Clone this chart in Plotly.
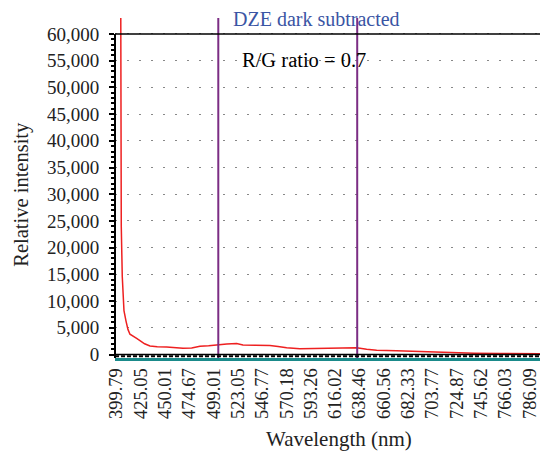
import numpy as np
import plotly.graph_objects as go

# Tick labels (wavelengths, nm) - evenly spaced on the axis (detector pixels)
tick_wl = [399.79, 425.05, 450.01, 474.67, 499.01, 523.05, 546.77, 570.18, 593.26,
           616.02, 638.46, 660.56, 682.33, 703.77, 724.87, 745.62, 766.03, 786.09]
tick_labels = [f"{v:.2f}" for v in tick_wl]

# Spectrum
spec_wl = [404.06, 404.79, 405.83, 406.53, 407.60, 409.67, 411.74, 413.83, 417.5, 420.78,
           424.22, 429.0, 434.51, 442.0, 451.64, 460.0, 468.18, 477.0, 485.28, 494.0,
           503.26, 512.0, 521.78, 527.94, 540.0, 554.19, 562.0, 570.27, 582.90, 598.0,
           613.95, 625.0, 635.88, 645.0, 654.11, 672.0, 689.92, 705.0, 719.05, 740.0,
           761.58, 780.0, 801.27]
spec_int = [80000, 24000, 14600, 10500, 8200, 6300, 4700, 3800, 3300, 3000,
            2600, 2000, 1600, 1450, 1400, 1250, 1150, 1200, 1550, 1650,
            1850, 1950, 2050, 1800, 1750, 1700, 1500, 1250, 1080, 1100,
            1120, 1150, 1250, 1000, 800, 680, 560, 420, 320, 250,
            200, 160, 130]

# Marker lines (nm)
marker_wl = [503.6, 636.4]

idx = np.arange(len(tick_wl))


def wl_to_idx(w):
    w = np.asarray(w, dtype=float)
    out = np.interp(w, tick_wl, idx)
    lo = w < tick_wl[0]
    hi = w > tick_wl[-1]
    out[lo] = (w[lo] - tick_wl[0]) / (tick_wl[1] - tick_wl[0])
    out[hi] = idx[-1] + (w[hi] - tick_wl[-1]) / (tick_wl[-1] - tick_wl[-2])
    return out


serif = "Liberation Serif, Times New Roman, serif"

# page offset of the figure (default body margin) and window size
O = 8
W, H = 548 - O, 462 - O
# plot-area geometry in window pixels
L, R, T, B = 115, 548, 18, 358.5
PW, PH = R - L, B - T


def px(x):
    return (x - L) / PW


def py(y):
    return (B - y) / PH


fig = go.Figure()
fig.add_trace(go.Scatter(x=wl_to_idx(spec_wl), y=spec_int, mode="lines",
                         line=dict(color="#EE2020", width=1.5), showlegend=False))

shapes = []
for m in wl_to_idx(marker_wl):
    shapes.append(dict(type="line", xref="x", yref="paper", x0=m, x1=m, y0=0, y1=1,
                       line=dict(color="#7B2D84", width=2)))
shapes.append(dict(type="line", xref="paper", yref="y", x0=0, x1=1, y0=60000, y1=60000,
                   line=dict(color="black", width=1.5)))
shapes.append(dict(type="line", xref="paper", yref="y", x0=0, x1=0, y0=-654, y1=60000,
                   line=dict(color="black", width=2)))
shapes.append(dict(type="line", xref="paper", yref="y", x0=0, x1=1, y0=0, y1=0,
                   line=dict(color="black", width=1.5)))
shapes.append(dict(type="line", xref="paper", yref="y", x0=0, x1=1, y0=-330, y1=-330,
                   line=dict(color="black", width=2, dash="4px,2px")))
fig.update_layout(shapes=shapes)

fig.add_annotation(text="DZE dark subtracted", xref="paper", yref="paper",
                   x=px(316), y=py(19.5), yanchor="middle", showarrow=False,
                   font=dict(family=serif, size=20, color="#3A55A4"))
fig.add_annotation(text="R/G ratio = 0.7", xref="paper", yref="paper",
                   x=px(304), y=py(60), yanchor="middle", showarrow=False,
                   font=dict(family=serif, size=20.5, color="black"))
fig.add_annotation(text="Wavelength (nm)", xref="paper", yref="paper",
                   x=px(339), y=py(440), yanchor="middle", showarrow=False,
                   font=dict(family=serif, size=21, color="#222"))
fig.add_annotation(text="Relative intensity", xref="paper", yref="paper",
                   x=px(22), y=py(195), textangle=-90, xanchor="center", yanchor="middle",
                   showarrow=False, font=dict(family=serif, size=20.5, color="#222"))

fig.update_xaxes(range=[-0.06, 17.76], tickmode="array", tickvals=list(idx),
                 ticktext=tick_labels, tickangle=-90, showgrid=False, zeroline=False,
                 showline=True, linecolor="#1A8A8A", linewidth=2.5, ticks="",
                 automargin=False,
                 tickfont=dict(family=serif, size=18.5, color="#222"))
fig.update_yaxes(range=[-654, 62991], tickmode="array",
                 tickvals=list(range(0, 60001, 5000)),
                 ticktext=[f"{v:,}" for v in range(0, 60001, 5000)],
                 ticks="outside", ticklen=5, tickwidth=1.5, tickcolor="black",
                 ticklabelstandoff=6,
                 minor=dict(tickmode="array", tickvals=list(range(0, 60001, 1000)),
                            ticks="outside", ticklen=3, tickwidth=1.5, tickcolor="black",
                            showgrid=False),
                 showgrid=True, gridcolor="#888", gridwidth=1.2, griddash="2px,10px",
                 zeroline=False, showline=False, automargin=False,
                 tickfont=dict(family=serif, size=19, color="#222"))

fig.update_layout(width=W, height=H,
                  margin=dict(l=L - O, r=548 - R, t=T - O, b=462 - B),
                  paper_bgcolor="white", plot_bgcolor="white")

fig.write_html("out.html")
